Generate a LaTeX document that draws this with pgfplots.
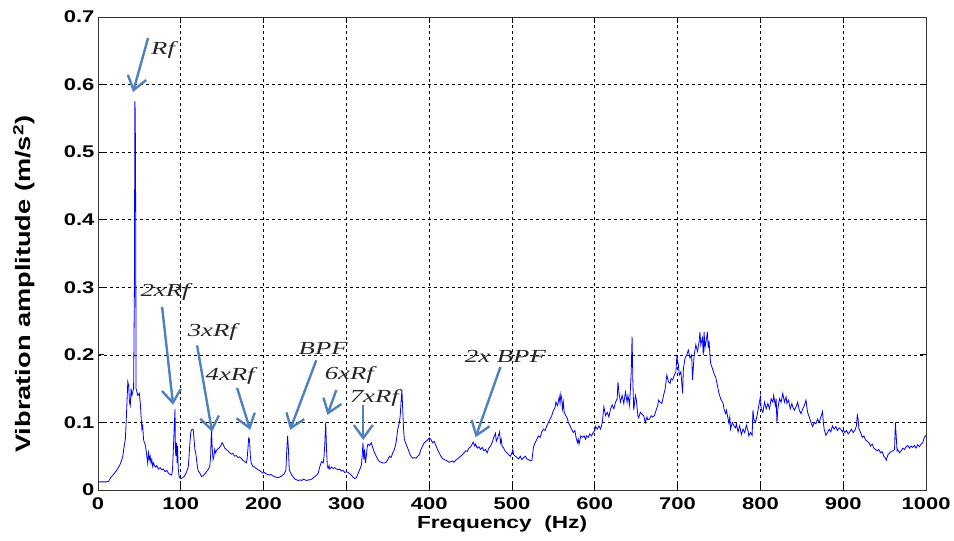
\documentclass[border=0pt]{standalone}
\usepackage{pgfplots}
\pgfplotsset{compat=1.18}
\usepackage{fontspec}
\setmainfont{Liberation Sans}[FakeStretch=1.3]
\newfontfamily\annfont{Liberation Serif}[FakeStretch=1.45]
\usetikzlibrary{arrows.meta}
\definecolor{arrowblue}{RGB}{79,129,189}
\definecolor{specblue}{RGB}{0,0,255}
\tikzset{annarrow/.style={draw=arrowblue, line width=2.4bp, -{Straight Barb[length=13bp,width=19bp,line width=2.4bp]}},
annlabel/.style={font=\annfont\itshape\fontsize{18.5}{20}\selectfont, text=black!85, inner sep=0pt}}
\pgfplotstableread{
x y
0 0.012
5 0.012
10 0.012
13 0.013
15 0.018
18 0.022
20 0.025
23 0.030
26 0.036
28 0.042
30 0.050
31 0.060
33 0.075
34 0.100
35 0.130
36 0.160
37 0.155
38 0.130
39 0.125
40 0.150
41 0.140
42 0.145
43 0.150
44 0.300
44.5 0.575
45 0.560
45.5 0.415
46 0.150
47 0.145
48 0.140
50 0.143
51 0.130
52 0.110
53 0.090
54 0.095
55 0.075
56 0.070
57 0.067
58 0.060
59 0.050
60 0.040
61 0.055
62 0.045
63 0.050
64 0.040
65 0.045
66 0.035
67 0.040
69 0.034
71 0.036
73 0.031
75 0.033
77 0.030
79 0.031
81 0.027
83 0.029
85 0.025
87 0.023
89 0.022
90 0.030
91 0.060
92 0.090
93 0.120
93.5 0.060
94 0.050
95 0.070
95.5 0.040
96 0.065
97 0.030
98 0.020
99 0.018
100 0.017
102 0.018
104 0.020
106 0.024
108 0.030
109 0.034
110 0.050
111 0.070
112 0.085
113 0.089
114 0.090
115 0.090
116 0.075
117 0.060
118 0.055
119 0.045
120 0.035
121 0.028
123 0.025
125 0.020
127 0.021
129 0.024
131 0.027
133 0.030
135 0.035
136 0.050
137 0.092
138 0.060
139 0.045
140 0.050
141 0.060
142 0.055
143 0.058
144 0.060
146 0.062
148 0.065
150 0.070
151 0.068
152 0.065
153 0.062
155 0.060
157 0.058
159 0.055
161 0.053
163 0.054
165 0.050
167 0.051
169 0.048
171 0.049
173 0.047
175 0.044
177 0.042
179 0.040
180 0.045
181 0.060
182 0.077
183 0.075
184 0.050
185 0.040
187 0.035
189 0.034
191 0.032
193 0.030
195 0.029
197 0.027
199 0.025
201 0.026
203 0.024
205 0.023
207 0.022
209 0.023
211 0.021
213 0.020
215 0.019
217 0.018
219 0.019
221 0.020
223 0.022
225 0.024
227 0.030
228 0.060
229 0.080
230 0.060
231 0.030
232 0.027
234 0.022
236 0.019
238 0.016
240 0.015
242 0.014
244 0.015
246 0.014
248 0.016
250 0.015
252 0.014
254 0.015
256 0.015
258 0.016
260 0.018
262 0.020
264 0.022
266 0.025
268 0.035
270 0.042
272 0.040
273 0.050
274 0.070
275 0.100
276 0.060
277 0.035
278 0.032
279 0.036
280 0.031
282 0.034
284 0.032
286 0.033
288 0.031
290 0.030
292 0.031
294 0.028
296 0.029
298 0.026
300 0.027
302 0.026
304 0.024
306 0.022
308 0.019
310 0.017
312 0.018
314 0.024
316 0.030
318 0.036
319 0.050
320 0.070
321 0.045
322 0.060
323 0.040
324 0.050
325 0.062
326 0.068
328 0.066
330 0.070
332 0.062
334 0.055
336 0.050
338 0.045
340 0.042
342 0.041
344 0.040
346 0.040
348 0.041
350 0.045
352 0.050
354 0.048
356 0.055
358 0.060
360 0.070
362 0.090
364 0.100
365 0.110
366 0.130
367 0.148
368 0.120
369 0.090
370 0.075
372 0.068
374 0.062
376 0.055
378 0.050
380 0.047
382 0.048
384 0.047
386 0.050
388 0.052
390 0.060
392 0.065
394 0.070
396 0.072
398 0.074
400 0.077
402 0.075
404 0.070
406 0.072
408 0.066
410 0.060
412 0.055
414 0.050
416 0.047
418 0.045
420 0.044
422 0.043
424 0.041
426 0.042
428 0.043
430 0.041
432 0.044
434 0.046
436 0.048
438 0.050
440 0.052
442 0.055
444 0.058
446 0.057
448 0.062
450 0.064
452 0.068
453 0.071
455 0.065
456 0.068
458 0.062
460 0.064
462 0.060
464 0.063
466 0.058
468 0.060
470 0.055
472 0.062
474 0.065
476 0.070
478 0.078
480 0.084
481 0.072
483 0.078
485 0.086
486 0.070
487 0.075
488 0.065
490 0.062
492 0.057
494 0.055
496 0.052
498 0.050
500 0.055
501 0.060
502 0.052
504 0.050
506 0.048
508 0.046
510 0.050
512 0.045
514 0.048
516 0.050
518 0.046
520 0.045
522 0.043
524 0.044
526 0.064
528 0.070
530 0.075
532 0.080
534 0.078
536 0.086
538 0.090
540 0.088
542 0.095
544 0.100
546 0.105
548 0.110
550 0.118
552 0.122
553 0.130
555 0.125
557 0.138
558 0.128
559 0.142
560 0.135
561 0.120
562 0.130
563 0.115
565 0.110
567 0.105
568 0.100
570 0.095
572 0.090
574 0.085
576 0.088
577 0.080
579 0.070
580 0.075
581 0.068
583 0.080
585 0.078
587 0.080
589 0.075
590 0.080
592 0.078
594 0.083
596 0.080
598 0.085
600 0.088
601 0.094
603 0.090
605 0.095
607 0.090
609 0.100
611 0.123
613 0.110
615 0.115
617 0.108
619 0.120
621 0.126
623 0.120
625 0.130
627 0.135
628 0.160
629 0.145
631 0.130
633 0.140
635 0.128
637 0.145
639 0.130
640 0.140
642 0.125
644 0.175
645 0.227
646 0.160
647 0.118
649 0.140
650 0.135
652 0.110
653 0.107
655 0.115
657 0.112
659 0.110
661 0.100
663 0.108
664 0.104
666 0.105
668 0.110
670 0.108
672 0.110
674 0.118
676 0.125
677 0.133
679 0.130
681 0.128
683 0.140
685 0.150
687 0.170
689 0.160
691 0.158
692 0.165
694 0.163
696 0.170
698 0.175
699 0.197
701 0.185
702 0.170
704 0.175
706 0.143
707 0.180
709 0.195
711 0.200
713 0.207
715 0.195
717 0.200
718 0.163
720 0.200
722 0.215
724 0.205
726 0.220
727 0.234
728 0.215
730 0.225
731 0.200
732 0.234
733 0.210
735 0.225
736 0.234
737 0.210
738 0.220
739 0.200
740 0.187
742 0.180
744 0.172
746 0.167
748 0.155
750 0.143
752 0.135
755 0.128
756 0.120
758 0.113
759 0.118
761 0.105
762 0.099
763 0.108
764 0.090
766 0.100
768 0.095
770 0.092
771 0.098
773 0.086
775 0.095
777 0.082
779 0.090
781 0.085
783 0.096
785 0.088
786 0.080
788 0.085
790 0.081
791 0.118
792 0.105
794 0.100
796 0.110
798 0.125
800 0.138
801 0.120
803 0.115
805 0.130
807 0.120
809 0.128
811 0.120
813 0.135
815 0.130
816 0.140
818 0.125
819 0.135
820 0.099
821 0.120
823 0.135
825 0.130
827 0.143
829 0.130
831 0.138
832 0.128
834 0.133
836 0.120
838 0.128
839 0.123
841 0.118
843 0.123
845 0.130
847 0.118
849 0.113
851 0.120
853 0.125
855 0.133
857 0.115
859 0.108
861 0.100
863 0.094
865 0.100
867 0.098
869 0.105
871 0.100
873 0.108
875 0.116
876 0.100
877 0.090
879 0.081
881 0.085
883 0.090
885 0.086
887 0.095
889 0.090
891 0.094
893 0.088
895 0.092
897 0.090
899 0.086
900 0.089
902 0.085
904 0.088
906 0.083
908 0.086
910 0.090
912 0.085
914 0.088
916 0.095
917 0.111
918 0.105
919 0.090
921 0.085
923 0.078
925 0.080
927 0.074
929 0.072
931 0.070
933 0.065
935 0.068
937 0.062
939 0.060
941 0.058
943 0.060
945 0.055
947 0.057
949 0.050
951 0.047
952 0.044
954 0.052
956 0.055
958 0.057
960 0.058
962 0.060
963 0.100
964 0.080
965 0.058
966 0.060
968 0.055
970 0.058
972 0.062
974 0.060
976 0.064
978 0.066
980 0.062
982 0.065
984 0.063
986 0.066
988 0.062
990 0.067
992 0.064
994 0.068
996 0.070
998 0.078
1000 0.081
}\spectrum
\begin{document}
\begin{tikzpicture}[x=1bp,y=1bp]
\path[use as bounding box] (-98,-51) rectangle (856,490);
\begin{axis}[
  at={(0,0)}, anchor=south west,
  scale only axis, width=828bp, height=473bp,
  xmin=0, xmax=1000, ymin=0, ymax=0.7,
  xtick={0,100,200,300,400,500,600,700,800,900,1000},
  ytick={0,0.1,0.2,0.3,0.4,0.5,0.6,0.7},
  yticklabels={0,0.1,0.2,0.3,0.4,0.5,0.6,0.7},
  xticklabels={0,100,200,300,400,500,600,700,800,900,1000},
  grid=major,
  major grid style={black, line width=0.7bp, dash pattern=on 3bp off 3bp},
  tick align=inside,
  major tick length=6bp,
  tick style={black, line width=0.8bp},
  axis line style={black!80, line width=0.9bp},
  ticklabel style={font=\bfseries\fontsize{17}{20}\selectfont},
  xticklabel style={yshift=-4bp},
  xlabel={Frequency\ \ (Hz)},
  ylabel={Vibration amplitude (m/s\textsuperscript{2})},
  xlabel style={font=\bfseries\fontsize{17.5}{20}\selectfont, at={(axis description cs:0.488,-0.071)}, anchor=center},
  ylabel style={font=\bfseries\fontsize{21}{23}\selectfont, at={(axis description cs:-0.089,0.435)}, anchor=center},
  clip=false,
]
\addplot[specblue, line width=0.8bp] table[x=x,y=y] {\spectrum};
\draw[annarrow] (axis cs:60.5,0.669) -- (axis cs:42.3,0.589);
\node[annlabel] at (axis cs:78.6,0.651) {Rf};
\draw[annarrow] (axis cs:77.4,0.271) -- (axis cs:90.7,0.126);
\node[annlabel] at (axis cs:81,0.293) {2xRf};
\draw[annarrow] (axis cs:119.7,0.214) -- (axis cs:137.8,0.086);
\node[annlabel] at (axis cs:138,0.234) {3xRf};
\draw[annarrow] (axis cs:168,0.151) -- (axis cs:183.8,0.089);
\node[annlabel] at (axis cs:159.6,0.169) {4xRf};
\draw[annarrow] (axis cs:263.6,0.192) -- (axis cs:232,0.089);
\node[annlabel] at (axis cs:272,0.210) {BPF};
\draw[annarrow] (axis cs:287.8,0.148) -- (axis cs:277,0.111);
\node[annlabel] at (axis cs:303.5,0.170) {6xRf};
\draw[annarrow] (axis cs:320.4,0.126) -- (axis cs:320.4,0.074);
\node[annlabel] at (axis cs:333.7,0.136) {7xRf};
\draw[annarrow] (axis cs:486,0.182) -- (axis cs:456,0.078);
\node[annlabel] at (axis cs:492,0.197) {2x BPF};
\end{axis}
\end{tikzpicture}
\end{document}
